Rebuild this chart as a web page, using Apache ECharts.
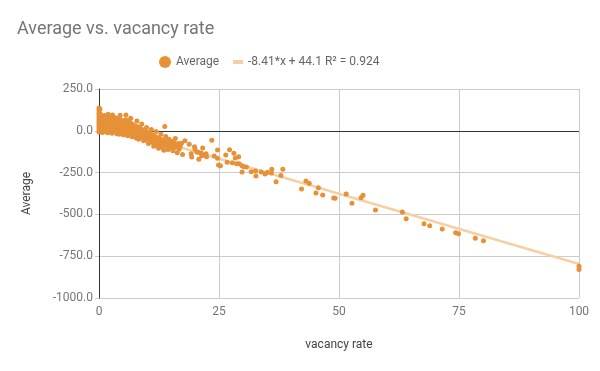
<!DOCTYPE html>
<html>
<head>
<meta charset="utf-8">
<script src="https://cdn.jsdelivr.net/npm/echarts@6/dist/echarts.min.js"></script>
<style>
html,body{margin:0;padding:0;background:#fff;}
#chart{width:600px;height:371px;}
</style>
</head>
<body>
<div id="chart"></div>
<script>
// Data
var vacancyRate = [
  0,0,0,0,0,0,0,0,0,0,0,0,0.2,0.2,0.2,0.3,0.3,0.3,0.5,0.5,0.6,0.6,0.7,0.8,0.9,0.9,
  1.1,1.1,1.2,1.2,1.3,1.5,1.5,1.6,1.7,1.8,1.9,1.9,2.0,
  2.1,2.2,2.3,2.4,2.5,2.6,2.7,2.8,2.9,3.0,
  3.1,3.2,3.3,3.4,3.5,3.6,3.7,3.8,3.9,
  4.0,4.1,4.2,4.4,4.4,4.5,4.6,4.7,4.8,4.9,
  5.0,5.1,5.2,5.3,5.4,5.6,5.6,5.7,5.8,5.9,
  6.0,6.1,6.2,6.3,6.4,6.6,6.6,6.7,6.8,6.9,
  7.0,7.1,7.2,7.3,7.5,7.6,7.7,7.8,7.9,
  8.0,8.1,8.2,8.3,8.5,8.6,8.7,8.9,
  9.0,9.1,9.2,9.3,9.5,9.6,9.7,9.9,
  10.0,10.1,10.2,10.3,10.5,10.6,10.7,10.9,
  11.0,11.1,11.2,11.4,11.5,11.6,11.7,11.9,
  12.0,12.1,12.2,12.4,12.5,12.6,12.8,12.9,
  13.0,13.2,13.3,13.5,13.6,13.7,13.8,13.9,
  14.1,14.2,14.4,14.6,14.7,14.9,
  15.1,15.2,15.4,15.6,15.8,15.9,
  16.1,16.3,16.5,16.7,16.9,
  17.2,17.9,17.4,18.8,19.2,19.3,19.9,20.0,20.4,20.7,21.3,21.4,20.8,21.6,22.3,22.4,
  23.5,24.0,24.7,24.7,24.9,25.3,26.4,26.7,27.2,27.8,28.1,28.4,28.7,29.2,29.1,29.8,
  30.2,30.7,29.8,31.7,32.6,32.7,33.8,34.6,35.1,35.9,36.0,36.9,37.9,38.3,
  42.2,43.1,43.8,45.7,45.2,46.6,48.9,49.2,51.5,52.7,54.6,55.0,57.6,63.2,64.0,
  67.7,68.9,71.5,74.3,74.9,78.4,80.1,100,100
];
var averageValue = [
  136,124,110,97,84,71,58,45,32,19,6,-7,130,103,77,52,26,0,88,64,40,14,-10,78,55,28,
  92,68,44,20,-4,84,58,33,8,-12,99,72,47,
  22,-2,82,60,36,12,-14,94,70,46,
  24,0,80,56,32,8,-18,74,50,
  28,4,-20,93,68,44,20,-6,62,38,
  14,-24,52,28,4,94,66,42,18,-8,
  -30,56,32,8,-16,75,46,22,-2,-36,
  38,14,-10,-30,30,6,-18,-44,59,
  24,0,-26,-50,16,-8,-32,40,
  8,-16,-40,-60,0,-24,-48,20,
  -8,-32,-56,-76,-14,-38,-62,8,
  -22,-46,-70,-92,-30,-54,-78,-4,
  -38,-62,-86,-104,-44,-68,-92,-20,
  -52,-76,-100,-116,-58,25,-82,-34,
  -66,-90,-112,-50,-74,-98,
  -62,-84,-120,-70,-100,-46,
  -88,-132,-76,-110,-92,
  -75,-59,-141,-81,-137,-157,-95,-111,-127,-129,-133,-149,-170,-103,-137,-155,
  -57,-151,-115,-164,-205,-209,-145,-188,-113,-191,-135,-163,-197,-197,-155,-209,
  -215,-216,-246,-245,-240,-270,-246,-258,-248,-252,-230,-304,-268,-230,
  -348,-300,-314,-340,-372,-384,-402,-404,-378,-434,-400,-386,-474,-486,-526,
  -556,-568,-587,-610,-616,-643,-657,-810,-830
];
// Trend line end points (from legend: -8.41*x + 44.1)
var trendX = [0, 100];
var trendY = [44.1, -796.9];
var xTicks = [0, 25, 50, 75, 100];
var yTicks = [-1000, -750, -500, -250, 0, 250];

var seriesName = 'Average';
var trendName = '-8.41*x + 44.1 R\u00b2 = 0.924';

var scatterData = vacancyRate.map(function (x, i) { return [x, averageValue[i]]; });
var trendData = trendX.map(function (x, i) { return [x, trendY[i]]; });

var font = 'Roboto, "Noto Sans", sans-serif';
var chart = echarts.init(document.getElementById('chart'), null, {renderer: 'canvas'});
chart.setOption({
  animation: false,
  backgroundColor: '#ffffff',
  textStyle: {fontFamily: font},
  title: {
    text: 'Average vs. vacancy rate',
    left: 12, top: 15,
    textStyle: {fontFamily: font, fontSize: 18, fontWeight: 'normal', color: '#757575'}
  },
  legend: [{
    data: [{name: seriesName, icon: 'circle'}],
    left: 154, top: 51,
    itemWidth: 12, itemHeight: 12,
    textStyle: {fontFamily: font, fontSize: 12, color: '#666666'}
  }, {
    data: [{name: trendName, icon: 'rect'}],
    left: 228, top: 51,
    itemWidth: 10, itemHeight: 4,
    textStyle: {fontFamily: font, fontSize: 12, color: '#666666'}
  }],
  grid: {left: 99, right: 21, top: 89, bottom: 73, containLabel: false},
  xAxis: {
    type: 'value',
    min: xTicks[0], max: xTicks[xTicks.length - 1], interval: 25,
    name: 'vacancy rate', nameLocation: 'middle', nameGap: 41,
    nameTextStyle: {fontFamily: font, fontSize: 12, color: '#444444'},
    axisLine: {show: false},
    axisTick: {show: false},
    axisLabel: {fontFamily: font, fontSize: 12, color: '#757575', margin: 8},
    splitLine: {show: true, lineStyle: {color: '#cccccc', width: 1}}
  },
  yAxis: {
    type: 'value',
    min: yTicks[0], max: yTicks[yTicks.length - 1], interval: 250,
    name: 'Average', nameLocation: 'middle', nameGap: 66,
    nameTextStyle: {fontFamily: font, fontSize: 12, color: '#444444'},
    axisLine: {show: true, onZero: false, lineStyle: {color: '#333333', width: 1}},
    axisTick: {show: true, length: 4, lineStyle: {color: '#cccccc'}},
    axisLabel: {fontFamily: font, fontSize: 12, color: '#757575', margin: 6,
      formatter: function (v) { return v.toFixed(1); }},
    splitLine: {show: true, lineStyle: {color: '#cccccc', width: 1}}
  },
  series: [{
    name: trendName,
    type: 'line',
    data: trendData,
    symbol: 'none',
    z: 2,
    lineStyle: {color: '#f6cfa2', width: 2.5},
    itemStyle: {color: '#f6cfa2'},
    markLine: {
      silent: true,
      symbol: ['none', 'none'],
      label: {show: false},
      lineStyle: {color: '#333333', width: 1, type: 'solid'},
      data: [{yAxis: 0}],
      z: 1
    }
  }, {
    name: seriesName,
    type: 'scatter',
    data: scatterData,
    symbol: 'circle',
    symbolSize: 5,
    z: 3,
    itemStyle: {color: '#e69138', opacity: 1}
  }]
});
</script>
</body>
</html>
